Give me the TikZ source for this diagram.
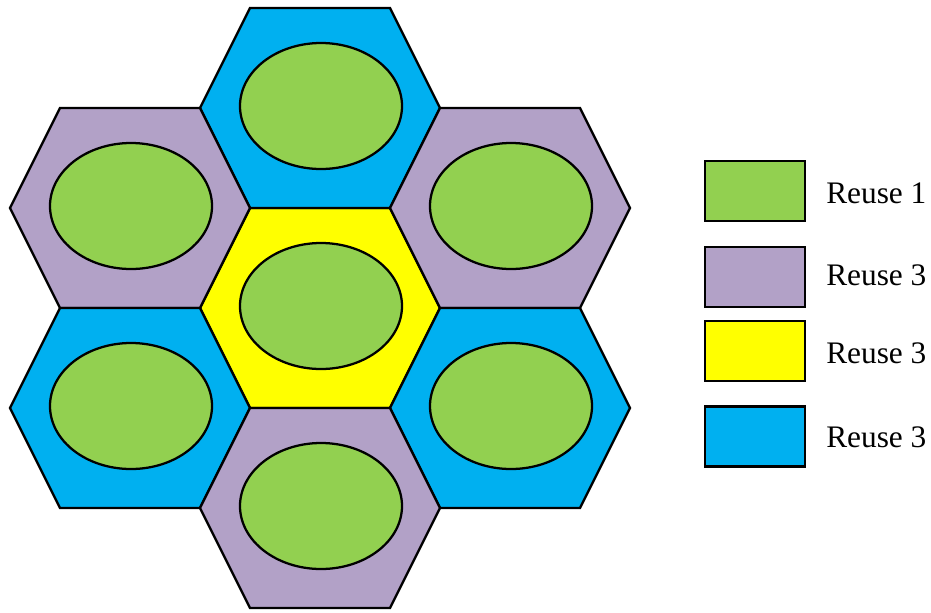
\documentclass[tikz,border=0pt]{standalone}
\usepackage{fontspec}
\setmainfont{Liberation Serif}
\definecolor{cgreen}{HTML}{92D050}
\definecolor{cpurple}{HTML}{B2A1C7}
\definecolor{cyellow}{HTML}{FFFF00}
\definecolor{cblue}{HTML}{00B0F0}
\tikzset{
  cell/.style={draw=black, line width=1.7pt, line join=miter},
  spot/.style={draw=black, line width=1.7pt, fill=cgreen},
  keybox/.style={draw=black, line width=1.7pt, rectangle, minimum width=75pt, minimum height=45pt, inner sep=0pt},
  keytext/.style={anchor=base west, inner sep=0pt, font=\fontsize{23.5}{26}\selectfont}
}
\begin{document}
\begin{tikzpicture}[x=0.75pt,y=-0.75pt]
\useasboundingbox (0,0) rectangle (931,612);
\foreach \cx/\cy/\col in {320/308/cyellow, 320/108/cblue, 130/208/cpurple, 510/208/cpurple, 130/408/cblue, 510/408/cblue, 320/508/cpurple}{
  \filldraw[cell, fill=\col] (\cx-120,\cy) -- (\cx-70,\cy-100) -- (\cx+70,\cy-100) -- (\cx+120,\cy) -- (\cx+70,\cy+100) -- (\cx-70,\cy+100) -- cycle;
  \filldraw[spot] (\cx+1,\cy-2) ellipse [x radius=81, y radius=63];
}
\node[keybox, fill=cgreen]  (k1) at (755,191) {};
\node[keybox, fill=cpurple] (k2) at (755,277) {};
\node[keybox, fill=cyellow] (k3) at (755,351) {};
\node[keybox, fill=cblue]   (k4) at (755,436.5) {};
\node[keytext] (t1) at (826,203) {Reuse 1};
\node[keytext] (t2) at (826,285) {Reuse 3};
\node[keytext] (t3) at (826,363) {Reuse 3};
\node[keytext] (t4) at (826,447) {Reuse 3};
\end{tikzpicture}
\end{document}
